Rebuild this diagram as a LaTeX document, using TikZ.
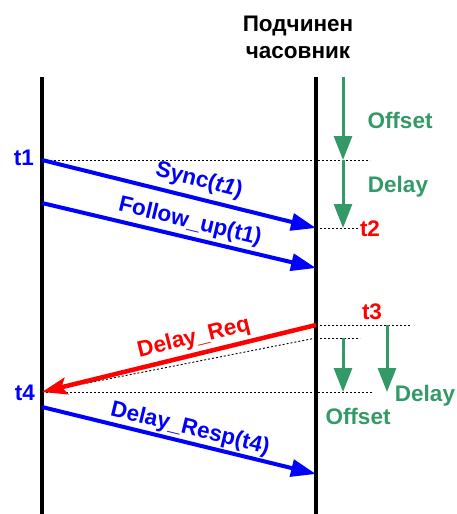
\documentclass[tikz,border=0pt]{standalone}
\usepackage{fontspec}
\setmainfont{Liberation Sans}
\usetikzlibrary{arrows.meta}
\definecolor{sgreen}{RGB}{51,153,102}
\begin{document}
\begin{tikzpicture}[x=1pt,y=-1pt,
  life/.style={line width=4pt},
  msg/.style={line width=4pt,-{Triangle[length=25pt,width=17pt]}},
  dotline/.style={line width=0.9pt,dash pattern=on 2pt off 2pt},
  garrow/.style={sgreen,line width=3pt,-{Triangle[length=24pt,width=18pt]}},
  lbl/.style={font=\fontsize{22.5}{27}\selectfont\bfseries,inner sep=0pt}]
\useasboundingbox (0,0) rectangle (456,514);

% title
\node[lbl,align=center] (title) at (298,37) {Подчинен\\часовник};

% lifelines
\coordinate (Ltop) at (42,77);  \coordinate (Lbot) at (42,514);
\coordinate (Rtop) at (316,77); \coordinate (Rbot) at (316,514);
\draw[life] (Ltop) -- (Lbot);
\draw[life] (Rtop) -- (Rbot);

% event points
\coordinate (t1) at (42,160);
\coordinate (t2) at (316,228);
\coordinate (f1) at (42,203);
\coordinate (f2) at (316,268);
\coordinate (t3) at (316,325);
\coordinate (q3) at (316,338);
\coordinate (t4) at (42,392);
\coordinate (r1) at (42,407);
\coordinate (r2) at (316,474);

% dotted reference lines
\coordinate (d1) at (370,160);
\coordinate (d2) at (358,228);
\coordinate (d3) at (410,325);
\coordinate (d4) at (360,338);
\coordinate (d5) at (372,392);
\draw[dotline] (t1) -- (d1);
\draw[dotline] (t2) -- (d2);
\draw[dotline] (t3) -- (d3);
\draw[dotline] (q3) -- (d4);
\draw[dotline] (q3) -- (t4);
\draw[dotline] (t4) -- (d5);

% messages
\draw[msg,blue] (t1) -- (t2);
\draw[msg,blue] (f1) -- (f2);
\draw[red,line width=4.5pt,-{Stealth[length=25pt,width=17pt,inset=5pt]}] (t3) -- (t4);
\draw[msg,blue] (r1) -- (r2);

\node[lbl,blue,rotate=-14] (sync) at (199,181) {Sync(\textit{t1})};
\node[lbl,blue,rotate=-13.5] (fup) at (190,222) {Follow\_up(t1)};
\node[lbl,red,rotate=13.7] (dreq) at (194,338) {Delay\_Req};
\node[lbl,blue,rotate=-13.7] (dresp) at (190,429) {Delay\_Resp(t4)};

% time stamps
\node[lbl,blue] (lt1) at (24,158) {t1};
\node[lbl,red] (lt2) at (370,229) {t2};
\node[lbl,red] (lt3) at (372,312) {t3};
\node[lbl,blue] (lt4) at (25,393) {t4};

% offset / delay intervals
\coordinate (g0) at (343,77);
\coordinate (g1) at (343,160);
\coordinate (g2) at (343,228);
\draw[garrow] (g0) -- (g1);
\draw[garrow] (g1) -- (g2);
\coordinate (h0) at (343,338);
\coordinate (h1) at (343,392);
\coordinate (k0) at (387,325);
\coordinate (k1) at (387,392);
\draw[garrow] (h0) -- (h1);
\draw[garrow] (k0) -- (k1);

\node[lbl,sgreen] (off1) at (400,120) {Offset};
\node[lbl,sgreen] (del1) at (398,187) {Delay};
\node[lbl,sgreen] (off2) at (358,416) {Offset};
\node[lbl,sgreen] (del2) at (425,396) {Delay};
\end{tikzpicture}
\end{document}
